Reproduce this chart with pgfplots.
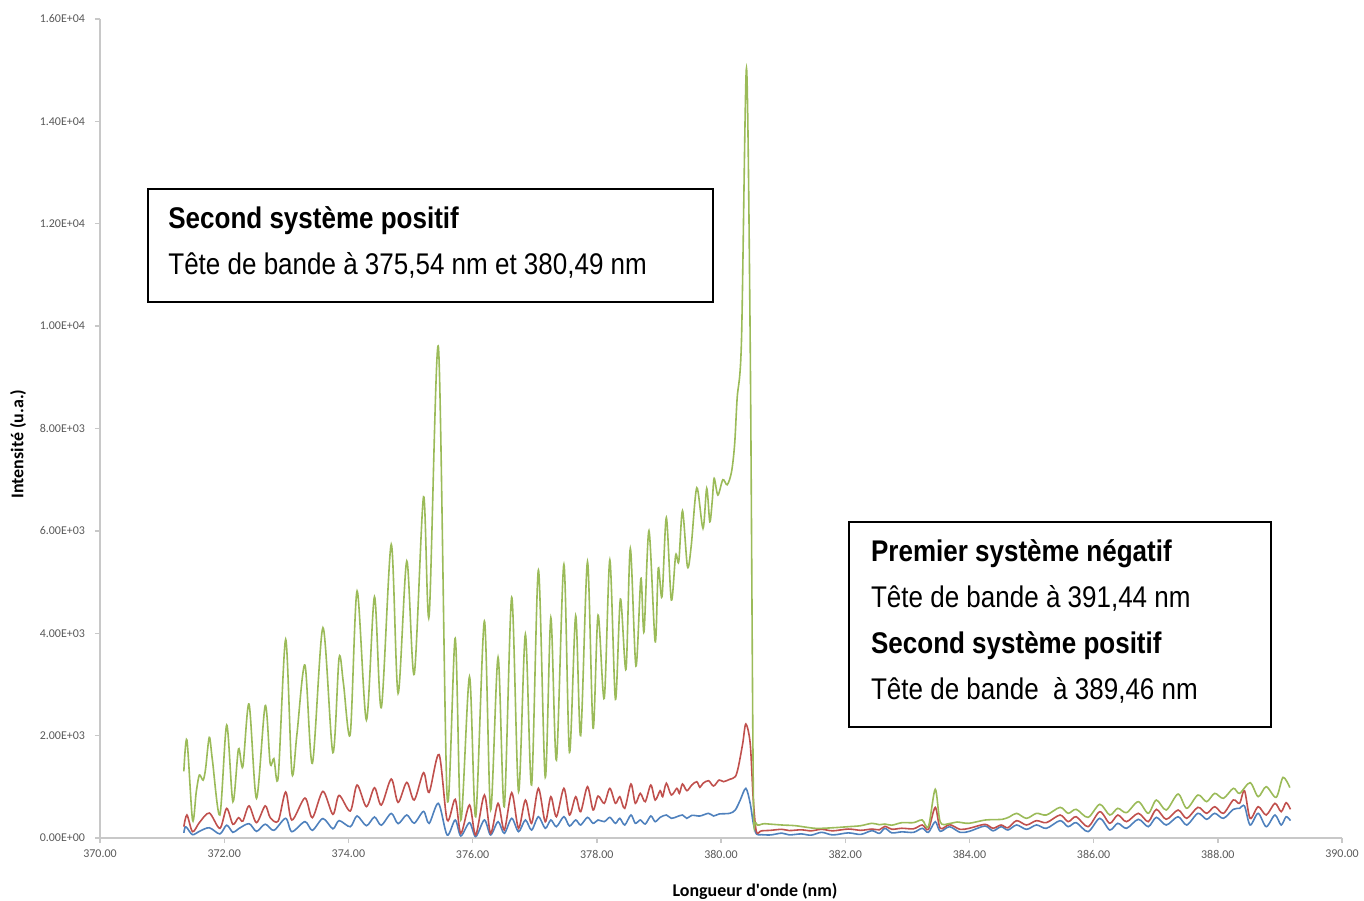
\documentclass[border=0pt]{standalone}
\usepackage{fontspec}
\setmainfont{Carlito}
\newfontfamily\narrow[FakeStretch=0.87]{Liberation Sans}
\usepackage{pgfplots}
\usepackage{pgfplotstable}
\pgfplotsset{compat=1.18}
\definecolor{cgreen}{HTML}{9BBB59}
\definecolor{cred}{HTML}{C0504D}
\definecolor{cblue}{HTML}{4F81BD}
\definecolor{axgray}{HTML}{C8C8C8}
\definecolor{lblgray}{HTML}{595959}

\pgfplotstableread{
x y
371.35 1300
371.40 1914
371.49 352
371.55 900
371.60 1230
371.66 1130
371.70 1350
371.76 1966
371.81 1523
371.93 449
372.04 2207
372.14 709
372.23 1738
372.30 1393
372.40 2617
372.52 775
372.66 2584
372.74 1459
372.80 1550
372.87 1198
372.99 3880
373.09 1276
373.17 2012
373.30 3379
373.42 1459
373.59 4108
373.75 1667
373.85 3522
373.92 3021
374.03 2031
374.14 4824
374.29 2305
374.42 4713
374.53 2545
374.69 5736
374.80 2826
374.94 5410
375.06 3197
375.21 6666
375.30 4336
375.45 9584
375.59 800
375.72 3900
375.81 352
375.95 3151
376.05 416
376.19 4238
376.29 547
376.41 3529
376.51 611
376.63 4701
376.74 905
376.85 3978
376.95 1035
377.06 5234
377.17 1185
377.26 4303
377.35 1523
377.47 5345
377.56 1673
377.66 4342
377.74 1999
377.85 5397
377.94 2142
378.02 4355
378.12 2728
378.21 5430
378.30 2709
378.38 4668
378.47 3295
378.54 5658
378.63 3359
378.71 5072
378.76 4030
378.84 6002
378.94 3834
378.99 5273
379.05 4713
379.12 6260
379.20 4648
379.27 5527
379.32 5400
379.38 6393
379.46 5299
379.52 5700
379.61 6842
379.71 6048
379.77 6830
379.82 6178
379.86 6600
379.89 7025
379.95 6700
380.03 7000
380.10 6900
380.17 7155
380.22 7700
380.26 8594
380.33 9726
380.41 15039
380.47 9700
380.52 1000
380.56 299
380.70 280
380.98 254
381.20 240
381.52 189
381.80 200
382.05 221
382.25 240
382.43 287
382.55 260
382.64 273
382.75 250
382.91 299
383.10 300
383.24 352
383.34 221
383.45 951
383.53 312
383.67 280
383.80 312
383.99 287
384.26 352
384.53 365
384.65 416
384.76 482
384.92 384
385.08 482
385.24 449
385.46 599
385.59 482
385.72 560
385.91 403
386.10 658
386.26 449
386.39 580
386.53 495
386.72 710
386.88 482
387.01 742
387.17 547
387.36 859
387.50 580
387.68 840
387.82 710
387.95 872
388.09 775
388.25 970
388.35 872
388.52 1081
388.65 807
388.78 1003
388.94 794
389.05 1185
389.16 985
}\greendata

\pgfplotstableread{
x y
371.35 221
371.40 449
371.49 124
371.60 300
371.76 488
371.93 189
372.04 579
372.14 267
372.23 397
372.30 330
372.40 628
372.52 300
372.66 628
372.74 400
372.87 332
372.99 898
373.09 351
373.30 781
373.42 397
373.59 911
373.75 462
373.85 833
374.03 527
374.14 1035
374.29 612
374.42 983
374.53 644
374.69 1152
374.80 696
374.94 1087
375.06 742
375.21 1276
375.30 891
375.46 1630
375.59 352
375.72 755
375.81 91
375.95 645
376.05 59
376.19 840
376.29 91
376.41 677
376.51 156
376.63 885
376.74 189
376.85 742
376.95 286
377.06 970
377.17 319
377.26 807
377.35 416
377.47 970
377.56 449
377.66 807
377.74 514
377.85 1003
377.94 547
378.02 820
378.12 677
378.21 970
378.30 677
378.37 807
378.45 580
378.55 1055
378.62 677
378.70 872
378.78 710
378.87 1035
378.94 742
379.02 924
379.06 807
379.12 1068
379.20 840
379.29 970
379.33 872
379.38 1055
379.45 924
379.53 1035
379.61 1100
379.66 990
379.71 1068
379.80 1120
379.88 1016
379.97 1133
380.04 1100
380.14 1146
380.23 1198
380.28 1393
380.35 1849
380.40 2227
380.47 1849
380.52 742
380.57 124
380.65 140
380.80 150
380.98 170
381.10 145
381.29 160
381.45 140
381.62 170
381.80 140
382.05 175
382.25 150
382.43 175
382.55 160
382.64 228
382.75 170
382.91 190
383.10 180
383.24 254
383.34 170
383.45 599
383.53 190
383.68 261
383.85 169
384.00 190
384.25 267
384.38 190
384.51 254
384.62 200
384.76 339
384.92 254
385.08 339
385.24 300
385.46 449
385.59 319
385.72 416
385.91 221
386.10 514
386.26 287
386.39 449
386.53 319
386.72 482
386.88 319
387.01 560
387.17 365
387.36 547
387.50 384
387.68 599
387.82 482
387.95 612
388.09 482
388.25 742
388.35 677
388.43 924
388.52 384
388.65 612
388.78 449
388.92 677
389.02 514
389.10 690
389.17 560
}\reddata

\pgfplotstableread{
x y
371.35 100
371.37 210
371.40 200
371.49 65
371.60 130
371.76 200
371.93 80
372.04 250
372.14 110
372.23 180
372.40 280
372.52 130
372.66 270
372.80 150
372.99 384
373.09 124
373.30 320
373.42 150
373.59 380
373.75 180
373.85 340
374.03 220
374.14 430
374.29 240
374.42 410
374.53 250
374.69 480
374.80 280
374.94 450
375.06 290
375.21 520
375.30 286
375.45 677
375.59 59
375.72 352
375.81 40
375.95 300
376.05 27
376.19 352
376.29 59
376.41 319
376.51 91
376.63 384
376.74 124
376.85 352
376.95 156
377.06 416
377.17 189
377.26 352
377.35 221
377.47 416
377.56 234
377.66 352
377.74 254
377.85 403
377.94 286
378.02 352
378.12 319
378.21 403
378.30 286
378.37 384
378.45 254
378.55 449
378.62 287
378.70 352
378.78 273
378.87 430
378.94 319
379.02 403
379.12 449
379.20 384
379.29 416
379.38 449
379.45 384
379.53 443
379.66 430
379.80 482
379.88 430
379.97 469
380.14 482
380.23 547
380.31 742
380.40 970
380.47 677
380.52 287
380.57 78
380.65 65
380.80 60
380.98 95
381.10 60
381.29 80
381.45 55
381.62 111
381.80 60
382.05 100
382.25 70
382.43 143
382.55 90
382.64 189
382.75 100
382.91 120
383.10 110
383.24 189
383.34 110
383.45 319
383.53 130
383.68 221
383.85 110
384.00 130
384.25 234
384.38 140
384.51 221
384.62 156
384.76 254
384.92 169
385.08 254
385.24 189
385.46 339
385.59 221
385.72 300
385.91 124
386.10 384
386.26 156
386.39 287
386.53 189
386.72 365
386.88 221
387.01 403
387.17 254
387.36 416
387.50 254
387.68 482
387.82 365
387.95 482
388.09 384
388.25 560
388.35 580
388.43 625
388.52 254
388.65 482
388.78 221
388.92 449
389.02 254
389.10 416
389.17 340
}\bluedata

\begin{document}
\begin{tikzpicture}
\useasboundingbox (0bp,0bp) rectangle (682bp,450.5bp);
\begin{axis}[
  at={(50bp,31.5bp)}, anchor=south west,
  scale only axis, width=621bp, height=409.5bp,
  xmin=370, xmax=390, ymin=0, ymax=16000,
  axis lines*=left,
  axis line style={-, draw=axgray, line width=0.7bp},
  tick style={draw=axgray, line width=0.7bp},
  tick align=outside, major tick length=2.5bp,
  xtick={370,372,374,376,378,380,382,384,386,388,390},
  xticklabels={370.00,372.00,374.00,376.00,378.00,380.00,382.00,384.00,386.00,388.00,390.00},
  ytick={0,2000,4000,6000,8000,10000,12000,14000,16000},
  yticklabels={0.00E+00,2.00E+03,4.00E+03,6.00E+03,8.00E+03,1.00E+04,1.20E+04,1.40E+04,1.60E+04},
  ticklabel style={font=\fontsize{6}{7}\selectfont, text=lblgray},
  yticklabel style={xshift=-1.5bp},
  scaled y ticks=false, scaled x ticks=false,
  clip=false,
]
\addplot[cblue, line width=0.8bp, smooth, tension=0.5] table {\bluedata};
\addplot[cred, line width=0.8bp, smooth, tension=0.5] table {\reddata};
\addplot[cgreen, line width=0.8bp, smooth, tension=0.5] table {\greendata};
\end{axis}
\node[anchor=base, inner sep=0] at (377.5bp,2.5bp) {\fontsize{9}{11}\selectfont\bfseries Longueur d\textquotesingle onde (nm)};
\node[rotate=90, anchor=center, inner sep=0] at (9bp,228.5bp) {\fontsize{9}{11}\selectfont\bfseries Intensité (u.a.)};
\draw[line width=1bp] (74bp,299.5bp) rectangle (356.5bp,356bp);
\node[anchor=base west, inner sep=0] at (84bp,336.35bp) {\narrow\bfseries\fontsize{15}{18}\selectfont Second système positif};
\node[anchor=base west, inner sep=0] at (84bp,313.35bp) {\narrow\fontsize{15}{18}\selectfont Tête de bande à 375,54 nm et 380,49 nm};
\draw[line width=1bp] (424.5bp,87bp) rectangle (635.5bp,189.5bp);
\node[anchor=base west, inner sep=0] at (435.35bp,169.65bp) {\narrow\bfseries\fontsize{15}{18}\selectfont Premier système négatif};
\node[anchor=base west, inner sep=0] at (435.35bp,146.65bp) {\narrow\fontsize{15}{18}\selectfont Tête de bande à 391,44 nm};
\node[anchor=base west, inner sep=0] at (435.35bp,123.85bp) {\narrow\bfseries\fontsize{15}{18}\selectfont Second système positif};
\node[anchor=base west, inner sep=0] at (435.35bp,100.85bp) {\narrow\fontsize{15}{18}\selectfont Tête de bande\ \ à 389,46 nm};
\end{tikzpicture}
\end{document}
